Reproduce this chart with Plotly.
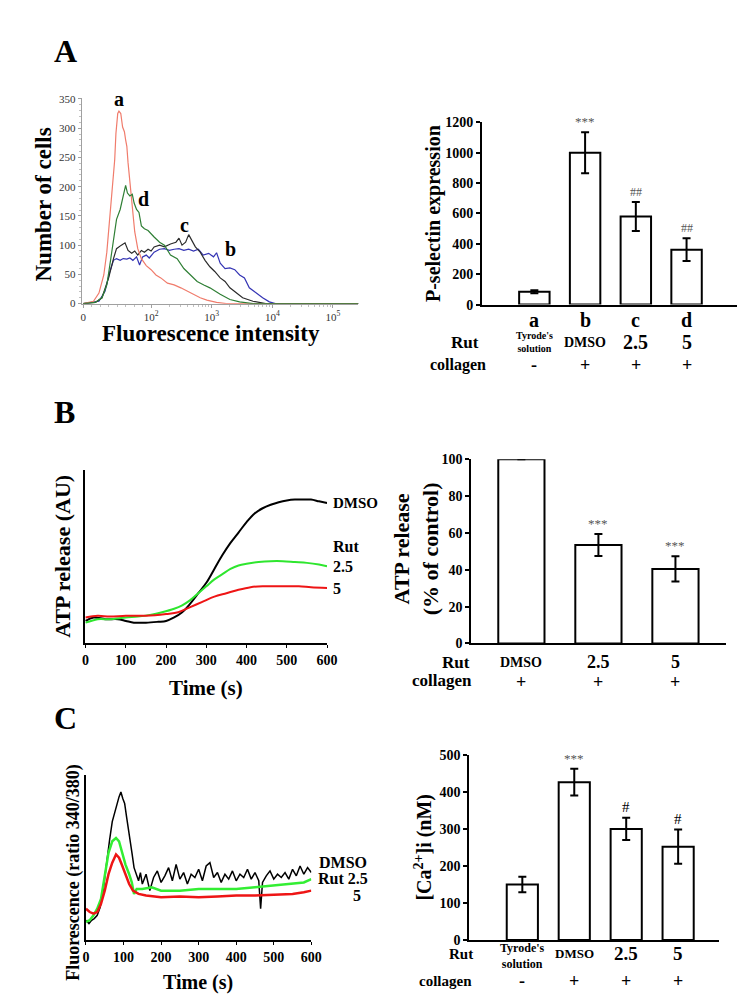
import math
import plotly.graph_objects as go

W, H = 756, 1006
SERIF = "Liberation Serif, Times New Roman, serif"

# ---------------- Panel A (left): flow cytometry histograms ----------------
# x = display position in decades of fluorescence intensity, y = number of cells
hist_a_x = [0.88, 1.05, 1.14, 1.22, 1.27, 1.32, 1.36, 1.40, 1.42, 1.45, 1.47, 1.50, 1.53, 1.56, 1.58, 1.60,
            1.62, 1.65, 1.69, 1.73, 1.78, 1.84, 1.92, 2.00, 2.08, 2.16, 2.27, 2.38, 2.49, 2.60, 2.70, 2.81,
            2.92, 3.08, 3.24, 5.42]
hist_a_y = [0, 4, 18, 49, 88, 150, 200, 246, 291, 325, 329, 325, 302, 294, 280, 269,
            241, 207, 168, 123, 94, 77, 65, 58, 49, 44, 35, 32, 27, 21, 16, 10,
            6, 2, 0, 0]

hist_d_x = [0.88, 1.08, 1.19, 1.27, 1.32, 1.38, 1.43, 1.49, 1.54, 1.58, 1.61, 1.65, 1.69, 1.72, 1.76, 1.80,
            1.84, 1.89, 1.95, 2.00, 2.05, 2.14, 2.22, 2.32, 2.43, 2.54, 2.65, 2.76, 2.87, 2.97, 3.14, 3.30,
            3.46, 3.68, 5.42]
hist_d_y = [0, 2, 10, 32, 66, 111, 144, 161, 184, 202, 189, 184, 187, 172, 161, 156,
            133, 128, 125, 119, 114, 105, 100, 83, 77, 60, 49, 38, 32, 27, 16, 7,
            3, 0, 0]

hist_c_x = [0.88, 1.08, 1.19, 1.30, 1.38, 1.43, 1.51, 1.57, 1.62, 1.68, 1.73, 1.78, 1.84, 1.89, 1.95, 2.00,
            2.05, 2.14, 2.22, 2.32, 2.41, 2.46, 2.51, 2.57, 2.62, 2.68, 2.73, 2.81, 2.89, 2.97, 3.05, 3.14,
            3.22, 3.30, 3.41, 3.51, 3.68, 3.89, 5.42]
hist_c_y = [0, 2, 10, 44, 77, 94, 100, 104, 91, 86, 90, 83, 91, 88, 93, 90,
            97, 100, 97, 102, 105, 112, 100, 105, 118, 105, 97, 88, 74, 63, 55, 44,
            38, 27, 18, 10, 4, 0, 0]

hist_b_x = [0.88, 1.14, 1.24, 1.32, 1.38, 1.43, 1.49, 1.54, 1.60, 1.65, 1.70, 1.76, 1.81, 1.86, 1.92, 1.97,
            2.05, 2.14, 2.22, 2.30, 2.38, 2.46, 2.54, 2.62, 2.70, 2.78, 2.86, 2.95, 3.03, 3.08, 3.14, 3.22,
            3.30, 3.38, 3.46, 3.54, 3.62, 3.73, 3.84, 3.95, 4.05, 5.42]
hist_b_y = [0, 4, 21, 55, 74, 77, 74, 77, 76, 78, 74, 80, 66, 80, 83, 78,
            88, 93, 94, 91, 93, 94, 91, 93, 90, 93, 83, 86, 80, 87, 69, 60,
            61, 58, 49, 44, 27, 18, 10, 3, 0, 0]

hist_tickvals = [0.88, 2, 3, 4, 5]
hist_ticktext = ["0", "10<sup>2</sup>", "10<sup>3</sup>", "10<sup>4</sup>", "10<sup>5</sup>"]
hist_yticks = [0, 50, 100, 150, 200, 250, 300, 350]

# ---------------- Panel A (right): P-selectin bars ----------------
pa_cats = ["a", "b", "c", "d"]
pa_vals = [85, 1000, 580, 362]
pa_errs = [10, 135, 95, 75]
pa_sig = ["", "***", "##", "##"]
pa_rut = ["Tyrode's<br>solution", "DMSO", "2.5", "5"]
pa_coll = ["-", "+", "+", "+"]
pa_yticks = [0, 200, 400, 600, 800, 1000, 1200]

# ---------------- Panel B (left): ATP release traces ----------------
atp_dmso_t = [0, 20, 50, 80, 100, 120, 150, 180, 200, 220, 240, 260, 280, 300, 320, 340, 360, 380, 400,
              420, 440, 460, 480, 500, 520, 540, 560, 580, 600]
atp_dmso_v = [0.13, 0.15, 0.14, 0.14, 0.13, 0.12, 0.12, 0.125, 0.13, 0.15, 0.18, 0.23, 0.29, 0.35, 0.43,
              0.51, 0.58, 0.64, 0.70, 0.75, 0.78, 0.80, 0.815, 0.825, 0.83, 0.83, 0.83, 0.82, 0.81]
atp_25_t = [0, 30, 60, 100, 130, 160, 190, 220, 240, 260, 280, 300, 320, 340, 360, 380, 400, 430, 460,
            490, 520, 550, 580, 600]
atp_25_v = [0.12, 0.14, 0.14, 0.15, 0.155, 0.165, 0.18, 0.20, 0.22, 0.25, 0.29, 0.33, 0.37, 0.40, 0.43,
            0.45, 0.46, 0.47, 0.475, 0.475, 0.47, 0.465, 0.455, 0.445]
atp_5_t = [0, 30, 60, 100, 150, 200, 230, 260, 290, 320, 350, 380, 410, 440, 470, 500, 530, 560, 600]
atp_5_v = [0.15, 0.16, 0.155, 0.16, 0.16, 0.17, 0.18, 0.21, 0.24, 0.27, 0.29, 0.31, 0.325, 0.33, 0.33,
           0.33, 0.33, 0.325, 0.32]
time_ticks = [0, 100, 200, 300, 400, 500, 600]

# ---------------- Panel B (right): ATP release bars ----------------
pb_cats = ["DMSO", "2.5", "5"]
pb_vals = [100, 53.5, 40.5]
pb_errs = [0, 6, 6.8]
pb_sig = ["", "***", "***"]
pb_coll = ["+", "+", "+"]
pb_yticks = [0, 20, 40, 60, 80, 100]

# ---------------- Panel C (left): Fura-2 fluorescence traces ----------------
ca_dmso_t = [0, 8, 15, 22, 30, 38, 45, 52, 58, 63, 70, 76, 82, 88, 93, 98, 103, 108, 113, 118, 123, 128,
             133, 140, 145, 150, 160, 170, 180, 190, 200, 210, 220, 230, 240, 250, 260, 270, 280, 290, 300,
             310, 320, 330, 340, 350, 360, 370, 380, 390, 400, 410, 420, 430, 440, 450, 460, 465, 470, 480,
             490, 500, 510, 520, 530, 540, 550, 560, 570, 580, 590, 600]
ca_dmso_v = [0.12, 0.10, 0.12, 0.13, 0.15, 0.20, 0.29, 0.42, 0.54, 0.61, 0.72, 0.78, 0.82, 0.87, 0.90,
             0.86, 0.83, 0.75, 0.68, 0.60, 0.52, 0.44, 0.40, 0.36, 0.41, 0.34, 0.40, 0.30, 0.38, 0.42,
             0.35, 0.39, 0.44, 0.36, 0.46, 0.37, 0.41, 0.34, 0.40, 0.38, 0.43, 0.36, 0.45, 0.47, 0.38,
             0.41, 0.35, 0.40, 0.37, 0.42, 0.36, 0.40, 0.38, 0.43, 0.37, 0.41, 0.36, 0.19, 0.35, 0.39,
             0.42, 0.37, 0.40, 0.38, 0.41, 0.37, 0.43, 0.39, 0.45, 0.40, 0.44, 0.41]
ca_25_t = [0, 10, 20, 30, 40, 50, 60, 70, 80, 88, 95, 105, 115, 122, 128, 135, 150, 175, 200, 250, 300,
           350, 400, 450, 500, 550, 580, 600]
ca_25_v = [0.11, 0.12, 0.15, 0.19, 0.25, 0.38, 0.53, 0.60, 0.62, 0.60, 0.54, 0.46, 0.40, 0.35, 0.28, 0.31,
           0.31, 0.32, 0.30, 0.30, 0.31, 0.31, 0.31, 0.32, 0.33, 0.34, 0.35, 0.37]
ca_5_t = [0, 10, 20, 30, 40, 50, 60, 70, 80, 88, 95, 105, 115, 125, 140, 160, 200, 250, 300, 350, 400,
          450, 500, 550, 580, 600]
ca_5_v = [0.19, 0.17, 0.16, 0.17, 0.22, 0.30, 0.40, 0.47, 0.52, 0.50, 0.46, 0.40, 0.34, 0.30, 0.28, 0.27,
          0.26, 0.265, 0.26, 0.265, 0.27, 0.27, 0.275, 0.28, 0.29, 0.30]

# ---------------- Panel C (right): [Ca2+]i bars ----------------
pc_cats = ["Tyrode", "DMSO", "2.5", "5"]
pc_vals = [150, 426, 300, 252]
pc_errs = [21, 36, 30, 46]
pc_sig = ["", "***", "#", "#"]
pc_rut = ["Tyrode's<br>solution", "DMSO", "2.5", "5"]
pc_coll = ["-", "+", "+", "+"]
pc_yticks = [0, 100, 200, 300, 400, 500]


def xdom(l, r):
    return [l / W, r / W]


def ydom(t, b):
    return [1 - b / H, 1 - t / H]


def yp(p):
    return 1 - p / H


def bold_ticks(vals):
    return dict(tickvals=vals, ticktext=[f"<b>{v}</b>" for v in vals])


fig = go.Figure()

# --- A left traces ---
for xs, ys, col in [(hist_b_x, hist_b_y, "#3434b4"), (hist_c_x, hist_c_y, "#2b2b2b"),
                    (hist_a_x, hist_a_y, "#f07c6c"), (hist_d_x, hist_d_y, "#2f7f35")]:
    fig.add_trace(go.Scatter(x=xs, y=ys, mode="lines", line=dict(color=col, width=1.2),
                             xaxis="x", yaxis="y", hoverinfo="skip"))


def bars(cats, vals, errs, xa, ya):
    fig.add_trace(go.Bar(x=cats, y=vals, width=0.6, xaxis=xa, yaxis=ya,
                         marker=dict(color="white", line=dict(color="black", width=2)),
                         error_y=dict(type="data", array=errs, visible=True, color="black",
                                      thickness=2, width=4)))


bars(pa_cats, pa_vals, pa_errs, "x2", "y2")

# --- B left traces ---
for xs, ys, col in [(atp_dmso_t, atp_dmso_v, "#000000"), (atp_25_t, atp_25_v, "#2ee62e"),
                    (atp_5_t, atp_5_v, "#ee1515")]:
    fig.add_trace(go.Scatter(x=xs, y=ys, mode="lines", line=dict(color=col, width=2, shape="spline"),
                             xaxis="x3", yaxis="y3", hoverinfo="skip"))

bars(pb_cats, pb_vals, pb_errs, "x4", "y4")

# --- C left traces ---
fig.add_trace(go.Scatter(x=ca_dmso_t, y=ca_dmso_v, mode="lines", line=dict(color="#000000", width=1.5),
                         xaxis="x5", yaxis="y5", hoverinfo="skip"))
for xs, ys, col in [(ca_25_t, ca_25_v, "#33ee33"), (ca_5_t, ca_5_v, "#ee1515")]:
    fig.add_trace(go.Scatter(x=xs, y=ys, mode="lines", line=dict(color=col, width=2.5),
                             xaxis="x5", yaxis="y5", hoverinfo="skip"))

bars(pc_cats, pc_vals, pc_errs, "x6", "y6")

# --- axes ---
minor_x = []
for d in range(2, 5):
    for k in range(2, 10):
        minor_x.append(d + math.log10(k))
for k in range(1, 8):
    minor_x.append(0.88 + k * 0.14)

bar_y = dict(showline=True, linecolor="black", linewidth=2, ticks="outside", ticklen=4, tickwidth=1.5,
             tickcolor="black", tickfont=dict(size=14, family=SERIF, color="black"), showgrid=False,
             zeroline=False)
bar_x = dict(type="category", showline=True, linecolor="black", linewidth=2, showticklabels=False,
             ticks="", showgrid=False, zeroline=False)
trace_x = dict(bold_ticks(time_ticks), showline=True, linecolor="black", linewidth=2, ticks="outside",
               ticklen=3, tickcolor="black", tickfont=dict(size=14, family=SERIF, color="black"),
               showgrid=False, zeroline=False)
trace_y = dict(showline=True, linecolor="black", linewidth=2, showticklabels=False, ticks="",
               showgrid=False, zeroline=False, range=[0, 1])

fig.update_layout(
    width=W, height=H, margin=dict(l=0, r=0, t=0, b=0),
    paper_bgcolor="white", plot_bgcolor="white", showlegend=False,
    font=dict(family=SERIF, color="black"),
    xaxis=dict(domain=xdom(72, 354), range=[0.855, 5.42], anchor="y", showline=True, linecolor="#a0a0a0",
               linewidth=1, ticks="outside", ticklen=3, tickcolor="#a0a0a0", tickvals=hist_tickvals,
               ticktext=hist_ticktext, tickfont=dict(size=11, color="#333"), showgrid=False, zeroline=False,
               minor=dict(tickvals=minor_x, ticks="outside", ticklen=2, tickcolor="#c0c0c0")),
    yaxis=dict(domain=ydom(84, 293), range=[0, 352], anchor="x", showline=True, linecolor="#a0a0a0",
               linewidth=1, ticks="outside", ticklen=3, tickcolor="#a0a0a0", tickvals=hist_yticks,
               tickfont=dict(size=11, color="#333"), showgrid=False, zeroline=False,
               minor=dict(dtick=10, ticks="outside", ticklen=2, tickcolor="#c0c0c0")),
    xaxis2=dict(bar_x, domain=xdom(480, 740), range=[-1.03, 4.0], anchor="y2"),
    yaxis2=dict(bar_y, **bold_ticks(pa_yticks), domain=ydom(109, 294), range=[0, 1200], anchor="x2"),
    xaxis3=dict(trace_x, domain=xdom(75, 322), range=[-2.5, 600], anchor="y3"),
    yaxis3=dict(trace_y, domain=ydom(462, 638), anchor="x3"),
    xaxis4=dict(bar_x, domain=xdom(469, 728), range=[-0.65, 2.65], anchor="y4"),
    yaxis4=dict(bar_y, **bold_ticks(pb_yticks), domain=ydom(451, 638), range=[0, 100], anchor="x4"),
    xaxis5=dict(trace_x, domain=xdom(76, 306), range=[-1, 600], anchor="y5"),
    yaxis5=dict(trace_y, domain=ydom(772, 939), anchor="x5"),
    xaxis6=dict(bar_x, domain=xdom(467, 721), range=[-1.02, 3.78], anchor="y6"),
    yaxis6=dict(bar_y, **bold_ticks(pc_yticks), domain=ydom(751, 939), range=[0, 500], anchor="x6"),
)

ann = []


def txt(text, x, y, size, xref="paper", yref="paper", angle=0, xanchor="center", yanchor="middle",
        color="black", bold=True, yshift=0):
    t = f"<b>{text}</b>" if bold else text
    ann.append(dict(text=t, x=x, y=y, xref=xref, yref=yref, textangle=angle, xanchor=xanchor,
                    yanchor=yanchor, showarrow=False, yshift=yshift,
                    font=dict(size=size, color=color, family=SERIF)))


# panel letters
txt("A", 56 / W, yp(37), 32)
txt("B", 55 / W, yp(403), 32)
txt("C", 56 / W, yp(714), 32)

# A left
txt("Number of cells", 33 / W, yp(192), 23, angle=-90)
txt("Fluorescence intensity", 204 / W, yp(323), 23)
for lab, px, py in [("a", 110, 85), ("d", 135, 187), ("c", 177, 213), ("b", 224, 238)]:
    txt(lab, px / W, yp(py), 20)

# A right (category positions given by index on the category axis)
txt("P-selectin expression", 431 / W, yp(202), 20, angle=-90)
for i, (c, v, e, s, r, cl) in enumerate(zip(pa_cats, pa_vals, pa_errs, pa_sig, pa_rut, pa_coll)):
    if s:
        txt(s, i, v + e, 13 if s == "***" else 12, xref="x2", yref="y2", yanchor="bottom",
            color="#555", bold=False, yshift=1)
    txt(c, i, yp(310), 20, xref="x2")
    rsize = 10 if "Tyrode" in r else (14 if r == "DMSO" else 20)
    txt(r, i, yp(332), rsize, xref="x2")
    txt(cl, i, yp(355), 18, xref="x2")
txt("Rut", 463 / W, yp(332), 17)
txt("collagen", 455 / W, yp(355), 16)

# B left
txt("ATP release (AU)", 53 / W, yp(550), 22, angle=-90)
txt("Time (s)", 199 / W, yp(683), 21)
txt("DMSO", 326 / W, yp(495), 15, xanchor="left")
txt("Rut", 326 / W, yp(540), 16, xanchor="left")
txt("2.5", 326 / W, yp(560), 16, xanchor="left")
txt("5", 326 / W, yp(582), 16, xanchor="left")

# B right
txt("ATP release<br>(% of control)", 413 / W, yp(542), 22, angle=-90)
for i, (c, v, e, s, cl) in enumerate(zip(pb_cats, pb_vals, pb_errs, pb_sig, pb_coll)):
    if s:
        txt(s, i, v + e, 13, xref="x4", yref="y4", yanchor="bottom", color="#555", bold=False, yshift=1)
    txt(c, i, yp(657), 14 if c == "DMSO" else 18, xref="x4")
    txt(cl, i, yp(677), 18, xref="x4")
txt("Rut", 453 / W, yp(657), 17)
txt("collagen", 439 / W, yp(676), 17)

# C left
txt("Fluorescence (ratio 340/380)", 63 / W, yp(870), 18, angle=-90)
txt("Time (s)", 191 / W, yp(982), 20)
txt("DMSO", 312 / W, yp(860), 16, xanchor="left")
txt("Rut 2.5", 311 / W, yp(877), 16, xanchor="left")
txt("5", 353 / W, yp(894), 16)

# C right
txt("[Ca<sup>2+</sup>]i (nM)", 420 / W, yp(845), 20, angle=-90)
for i, (c, v, e, s, r, cl) in enumerate(zip(pc_cats, pc_vals, pc_errs, pc_sig, pc_rut, pc_coll)):
    if s:
        txt(s, i, v + e, 13 if s == "***" else 15, xref="x6", yref="y6", yanchor="bottom",
            color="#555" if s == "***" else "black", bold=False, yshift=1)
    rsize = 12 if "Tyrode" in r else (13 if r == "DMSO" else 19)
    txt(r, i, yp(955 if "Tyrode" in r else 953), rsize, xref="x6")
    txt(cl, i, yp(981), 18, xref="x6")
txt("Rut", 458 / W, yp(953), 15)
txt("collagen", 443 / W, yp(981), 15)

fig.update_layout(annotations=ann)
fig.write_html("out.html")
